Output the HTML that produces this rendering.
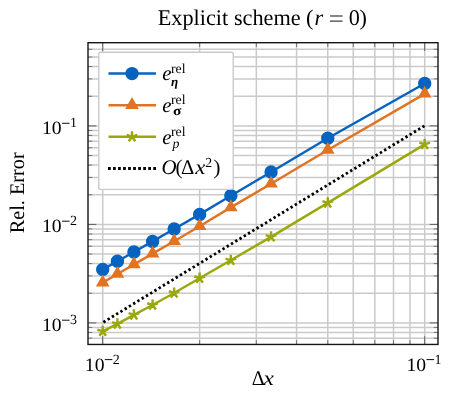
<!DOCTYPE html>
<html><head><meta charset="utf-8"><title>plot</title>
<style>
html,body{margin:0;padding:0;background:#fff;}
svg{display:block;will-change:transform;}
text{font-family:"Liberation Serif",serif;fill:#000;text-rendering:geometricPrecision;}
.i{font-style:italic;}
.b{font-weight:bold;}
</style></head><body>
<svg width="452" height="394" viewBox="0 0 452 394">
<rect x="0" y="0" width="452" height="394" fill="#fff"/>
<defs><clipPath id="c"><rect x="88.0" y="42.7" width="350.0" height="301.75"/></clipPath></defs>

<g stroke="#cacaca" stroke-width="1.5" fill="none">
<line x1="102.70" y1="42.7" x2="102.70" y2="344.45"/>
<line x1="424.70" y1="42.7" x2="424.70" y2="344.45"/>
<line x1="199.63" y1="42.7" x2="199.63" y2="344.45"/>
<line x1="256.33" y1="42.7" x2="256.33" y2="344.45"/>
<line x1="296.56" y1="42.7" x2="296.56" y2="344.45"/>
<line x1="327.77" y1="42.7" x2="327.77" y2="344.45"/>
<line x1="353.26" y1="42.7" x2="353.26" y2="344.45"/>
<line x1="374.82" y1="42.7" x2="374.82" y2="344.45"/>
<line x1="393.49" y1="42.7" x2="393.49" y2="344.45"/>
<line x1="409.97" y1="42.7" x2="409.97" y2="344.45"/>
<line x1="88.0" y1="322.90" x2="438.0" y2="322.90"/>
<line x1="88.0" y1="224.40" x2="438.0" y2="224.40"/>
<line x1="88.0" y1="125.90" x2="438.0" y2="125.90"/>
<line x1="88.0" y1="338.16" x2="438.0" y2="338.16"/>
<line x1="88.0" y1="332.45" x2="438.0" y2="332.45"/>
<line x1="88.0" y1="327.41" x2="438.0" y2="327.41"/>
<line x1="88.0" y1="293.25" x2="438.0" y2="293.25"/>
<line x1="88.0" y1="275.90" x2="438.0" y2="275.90"/>
<line x1="88.0" y1="263.60" x2="438.0" y2="263.60"/>
<line x1="88.0" y1="254.05" x2="438.0" y2="254.05"/>
<line x1="88.0" y1="246.25" x2="438.0" y2="246.25"/>
<line x1="88.0" y1="239.66" x2="438.0" y2="239.66"/>
<line x1="88.0" y1="233.95" x2="438.0" y2="233.95"/>
<line x1="88.0" y1="228.91" x2="438.0" y2="228.91"/>
<line x1="88.0" y1="194.75" x2="438.0" y2="194.75"/>
<line x1="88.0" y1="177.40" x2="438.0" y2="177.40"/>
<line x1="88.0" y1="165.10" x2="438.0" y2="165.10"/>
<line x1="88.0" y1="155.55" x2="438.0" y2="155.55"/>
<line x1="88.0" y1="147.75" x2="438.0" y2="147.75"/>
<line x1="88.0" y1="141.16" x2="438.0" y2="141.16"/>
<line x1="88.0" y1="135.45" x2="438.0" y2="135.45"/>
<line x1="88.0" y1="130.41" x2="438.0" y2="130.41"/>
<line x1="88.0" y1="96.25" x2="438.0" y2="96.25"/>
<line x1="88.0" y1="78.90" x2="438.0" y2="78.90"/>
<line x1="88.0" y1="66.60" x2="438.0" y2="66.60"/>
<line x1="88.0" y1="57.05" x2="438.0" y2="57.05"/>
<line x1="88.0" y1="49.25" x2="438.0" y2="49.25"/>
</g>
<g stroke="#444" stroke-width="0.8" fill="none">
<line x1="102.70" y1="42.7" x2="102.70" y2="51.0"/>
<line x1="102.70" y1="344.45" x2="102.70" y2="336.15"/>
<line x1="424.70" y1="42.7" x2="424.70" y2="51.0"/>
<line x1="424.70" y1="344.45" x2="424.70" y2="336.15"/>
<line x1="88.0" y1="322.90" x2="96.3" y2="322.90"/>
<line x1="438.0" y1="322.90" x2="429.7" y2="322.90"/>
<line x1="88.0" y1="224.40" x2="96.3" y2="224.40"/>
<line x1="438.0" y1="224.40" x2="429.7" y2="224.40"/>
<line x1="88.0" y1="125.90" x2="96.3" y2="125.90"/>
<line x1="438.0" y1="125.90" x2="429.7" y2="125.90"/>
</g>
<g stroke="#555" stroke-width="0.7" fill="none">
<line x1="199.63" y1="42.7" x2="199.63" y2="47.0"/>
<line x1="199.63" y1="344.45" x2="199.63" y2="340.15"/>
<line x1="256.33" y1="42.7" x2="256.33" y2="47.0"/>
<line x1="256.33" y1="344.45" x2="256.33" y2="340.15"/>
<line x1="296.56" y1="42.7" x2="296.56" y2="47.0"/>
<line x1="296.56" y1="344.45" x2="296.56" y2="340.15"/>
<line x1="327.77" y1="42.7" x2="327.77" y2="47.0"/>
<line x1="327.77" y1="344.45" x2="327.77" y2="340.15"/>
<line x1="353.26" y1="42.7" x2="353.26" y2="47.0"/>
<line x1="353.26" y1="344.45" x2="353.26" y2="340.15"/>
<line x1="374.82" y1="42.7" x2="374.82" y2="47.0"/>
<line x1="374.82" y1="344.45" x2="374.82" y2="340.15"/>
<line x1="393.49" y1="42.7" x2="393.49" y2="47.0"/>
<line x1="393.49" y1="344.45" x2="393.49" y2="340.15"/>
<line x1="409.97" y1="42.7" x2="409.97" y2="47.0"/>
<line x1="409.97" y1="344.45" x2="409.97" y2="340.15"/>
<line x1="88.0" y1="338.16" x2="92.3" y2="338.16"/>
<line x1="438.0" y1="338.16" x2="433.7" y2="338.16"/>
<line x1="88.0" y1="332.45" x2="92.3" y2="332.45"/>
<line x1="438.0" y1="332.45" x2="433.7" y2="332.45"/>
<line x1="88.0" y1="327.41" x2="92.3" y2="327.41"/>
<line x1="438.0" y1="327.41" x2="433.7" y2="327.41"/>
<line x1="88.0" y1="293.25" x2="92.3" y2="293.25"/>
<line x1="438.0" y1="293.25" x2="433.7" y2="293.25"/>
<line x1="88.0" y1="275.90" x2="92.3" y2="275.90"/>
<line x1="438.0" y1="275.90" x2="433.7" y2="275.90"/>
<line x1="88.0" y1="263.60" x2="92.3" y2="263.60"/>
<line x1="438.0" y1="263.60" x2="433.7" y2="263.60"/>
<line x1="88.0" y1="254.05" x2="92.3" y2="254.05"/>
<line x1="438.0" y1="254.05" x2="433.7" y2="254.05"/>
<line x1="88.0" y1="246.25" x2="92.3" y2="246.25"/>
<line x1="438.0" y1="246.25" x2="433.7" y2="246.25"/>
<line x1="88.0" y1="239.66" x2="92.3" y2="239.66"/>
<line x1="438.0" y1="239.66" x2="433.7" y2="239.66"/>
<line x1="88.0" y1="233.95" x2="92.3" y2="233.95"/>
<line x1="438.0" y1="233.95" x2="433.7" y2="233.95"/>
<line x1="88.0" y1="228.91" x2="92.3" y2="228.91"/>
<line x1="438.0" y1="228.91" x2="433.7" y2="228.91"/>
<line x1="88.0" y1="194.75" x2="92.3" y2="194.75"/>
<line x1="438.0" y1="194.75" x2="433.7" y2="194.75"/>
<line x1="88.0" y1="177.40" x2="92.3" y2="177.40"/>
<line x1="438.0" y1="177.40" x2="433.7" y2="177.40"/>
<line x1="88.0" y1="165.10" x2="92.3" y2="165.10"/>
<line x1="438.0" y1="165.10" x2="433.7" y2="165.10"/>
<line x1="88.0" y1="155.55" x2="92.3" y2="155.55"/>
<line x1="438.0" y1="155.55" x2="433.7" y2="155.55"/>
<line x1="88.0" y1="147.75" x2="92.3" y2="147.75"/>
<line x1="438.0" y1="147.75" x2="433.7" y2="147.75"/>
<line x1="88.0" y1="141.16" x2="92.3" y2="141.16"/>
<line x1="438.0" y1="141.16" x2="433.7" y2="141.16"/>
<line x1="88.0" y1="135.45" x2="92.3" y2="135.45"/>
<line x1="438.0" y1="135.45" x2="433.7" y2="135.45"/>
<line x1="88.0" y1="130.41" x2="92.3" y2="130.41"/>
<line x1="438.0" y1="130.41" x2="433.7" y2="130.41"/>
<line x1="88.0" y1="96.25" x2="92.3" y2="96.25"/>
<line x1="438.0" y1="96.25" x2="433.7" y2="96.25"/>
<line x1="88.0" y1="78.90" x2="92.3" y2="78.90"/>
<line x1="438.0" y1="78.90" x2="433.7" y2="78.90"/>
<line x1="88.0" y1="66.60" x2="92.3" y2="66.60"/>
<line x1="438.0" y1="66.60" x2="433.7" y2="66.60"/>
<line x1="88.0" y1="57.05" x2="92.3" y2="57.05"/>
<line x1="438.0" y1="57.05" x2="433.7" y2="57.05"/>
<line x1="88.0" y1="49.25" x2="92.3" y2="49.25"/>
<line x1="438.0" y1="49.25" x2="433.7" y2="49.25"/>
</g>
<g clip-path="url(#c)">
<polyline points="102.70,269.40 117.43,261.20 133.91,252.00 152.58,241.40 174.14,229.00 199.63,214.40 230.84,195.80 271.07,172.00 327.77,138.30 424.70,83.50" fill="none" stroke="#0664c0" stroke-width="2.45" stroke-linejoin="round"/>
<g fill="#0664c0" stroke="#0664c0" stroke-width="2.0">
<circle cx="102.70" cy="269.40" r="5.7"/>
<circle cx="117.43" cy="261.20" r="5.7"/>
<circle cx="133.91" cy="252.00" r="5.7"/>
<circle cx="152.58" cy="241.40" r="5.7"/>
<circle cx="174.14" cy="229.00" r="5.7"/>
<circle cx="199.63" cy="214.40" r="5.7"/>
<circle cx="230.84" cy="195.80" r="5.7"/>
<circle cx="271.07" cy="172.00" r="5.7"/>
<circle cx="327.77" cy="138.30" r="5.7"/>
<circle cx="424.70" cy="83.50" r="5.7"/>
</g>
<polyline points="102.70,282.65 117.43,274.05 133.91,264.45 152.58,253.65 174.14,241.25 199.63,226.25 230.84,207.40 271.07,183.75 327.77,149.95 424.70,93.85" fill="none" stroke="#e27320" stroke-width="2.45" stroke-linejoin="round"/>
<g fill="#e27320" stroke="#e27320" stroke-width="2.0" stroke-linejoin="miter" stroke-miterlimit="10">
<polygon points="102.70,276.55 97.59,285.40 107.81,285.40"/>
<polygon points="117.43,267.95 112.32,276.80 122.54,276.80"/>
<polygon points="133.91,258.35 128.80,267.20 139.01,267.20"/>
<polygon points="152.58,247.55 147.47,256.40 157.69,256.40"/>
<polygon points="174.14,235.15 169.03,244.00 179.24,244.00"/>
<polygon points="199.63,220.15 194.52,229.00 204.74,229.00"/>
<polygon points="230.84,201.30 225.73,210.15 235.95,210.15"/>
<polygon points="271.07,177.65 265.96,186.50 276.18,186.50"/>
<polygon points="327.77,143.85 322.66,152.70 332.88,152.70"/>
<polygon points="424.70,87.75 419.59,96.60 429.81,96.60"/>
</g>
<polyline points="102.70,331.30 117.43,323.90 133.91,314.90 152.58,305.00 174.14,293.00 199.63,278.20 230.84,260.30 271.07,236.85 327.77,202.90 424.70,144.40" fill="none" stroke="#9aa80a" stroke-width="2.45" stroke-linejoin="round"/>
<g fill="none" stroke="#9aa80a" stroke-width="2.45">
<path d="M102.70,331.30L102.70,325.70M102.70,331.30L108.03,329.57M102.70,331.30L105.99,335.83M102.70,331.30L99.41,335.83M102.70,331.30L97.37,329.57"/>
<path d="M117.43,323.90L117.43,318.30M117.43,323.90L122.76,322.17M117.43,323.90L120.73,328.43M117.43,323.90L114.14,328.43M117.43,323.90L112.11,322.17"/>
<path d="M133.91,314.90L133.91,309.30M133.91,314.90L139.23,313.17M133.91,314.90L137.20,319.43M133.91,314.90L130.61,319.43M133.91,314.90L128.58,313.17"/>
<path d="M152.58,305.00L152.58,299.40M152.58,305.00L157.90,303.27M152.58,305.00L155.87,309.53M152.58,305.00L149.29,309.53M152.58,305.00L147.25,303.27"/>
<path d="M174.14,293.00L174.14,287.40M174.14,293.00L179.46,291.27M174.14,293.00L177.43,297.53M174.14,293.00L170.84,297.53M174.14,293.00L168.81,291.27"/>
<path d="M199.63,278.20L199.63,272.60M199.63,278.20L204.96,276.47M199.63,278.20L202.92,282.73M199.63,278.20L196.34,282.73M199.63,278.20L194.31,276.47"/>
<path d="M230.84,260.30L230.84,254.70M230.84,260.30L236.16,258.57M230.84,260.30L234.13,264.83M230.84,260.30L227.55,264.83M230.84,260.30L225.51,258.57"/>
<path d="M271.07,236.85L271.07,231.25M271.07,236.85L276.39,235.12M271.07,236.85L274.36,241.38M271.07,236.85L267.78,241.38M271.07,236.85L265.74,235.12"/>
<path d="M327.77,202.90L327.77,197.30M327.77,202.90L333.09,201.17M327.77,202.90L331.06,207.43M327.77,202.90L324.48,207.43M327.77,202.90L322.44,201.17"/>
<path d="M424.70,144.40L424.70,138.80M424.70,144.40L430.03,142.67M424.70,144.40L427.99,148.93M424.70,144.40L421.41,148.93M424.70,144.40L419.37,142.67"/>
</g>
<line x1="102.70" y1="322.65" x2="424.70" y2="125.7" stroke="#000" stroke-width="2.8" stroke-dasharray="2.4 2.587" stroke-dashoffset="-0.8"/>
</g>
<rect x="88.0" y="42.7" width="350.0" height="301.75" fill="none" stroke="#151515" stroke-width="1.4"/>
<rect x="98.8" y="52.2" width="134.45" height="137.14999999999998" rx="1.8" ry="1.8" fill="#fff" stroke="#cacaca" stroke-width="1.4"/>
<line x1="108.5" y1="73.6" x2="156.0" y2="73.6" stroke="#0664c0" stroke-width="2.5"/>
<circle cx="132.0" cy="73.6" r="5.7" fill="#0664c0" stroke="#0664c0" stroke-width="2.0"/>
<line x1="108.5" y1="105.15" x2="156.0" y2="105.15" stroke="#e27320" stroke-width="2.5"/>
<g fill="#e27320" stroke="#e27320" stroke-width="2.0" stroke-miterlimit="10"><polygon points="132.00,99.05 126.89,107.90 137.11,107.90"/></g>
<line x1="108.5" y1="136.75" x2="156.0" y2="136.75" stroke="#9aa80a" stroke-width="2.5"/>
<g fill="none" stroke="#9aa80a" stroke-width="2.45"><path d="M132.00,136.75L132.00,131.15M132.00,136.75L137.33,135.02M132.00,136.75L135.29,141.28M132.00,136.75L128.71,141.28M132.00,136.75L126.67,135.02"/></g>
<line x1="108.0" y1="168.39999999999998" x2="156.1" y2="168.39999999999998" stroke="#000" stroke-width="3.0" stroke-dasharray="2.75 2.28"/>
<text transform="translate(162.2,80.0) scale(1.0,1)" font-size="20.8" class="i" text-anchor="start">e</text><text transform="translate(171.0,72.5) scale(1.0,1)" font-size="13.8" text-anchor="start">rel</text><text transform="translate(170.9,85.5) scale(1.0,1)" font-size="13.1" class="b i" text-anchor="start">η</text>
<text transform="translate(162.2,111.6) scale(1.0,1)" font-size="20.8" class="i" text-anchor="start">e</text><text transform="translate(171.0,104.1) scale(1.0,1)" font-size="13.8" text-anchor="start">rel</text><text transform="translate(172.9,115.3) scale(1.15,1)" font-size="13.4" class="b" text-anchor="start">σ</text>
<text transform="translate(162.2,143.5) scale(1.0,1)" font-size="20.8" class="i" text-anchor="start">e</text><text transform="translate(171.0,136.0) scale(1.0,1)" font-size="13.8" text-anchor="start">rel</text><text transform="translate(172.6,147.7) scale(1.0,1)" font-size="13.8" class="i" text-anchor="start">p</text>
<text transform="translate(161.4,174.3) scale(1.0,1)" font-size="20.8" class="i" text-anchor="start">O</text>
<text transform="translate(175.6,174.3) scale(1.0,1)" font-size="20.8" text-anchor="start">(</text>
<text transform="translate(181.0,174.3) scale(1.0,1)" font-size="20.8" text-anchor="start">Δ</text>
<text transform="translate(195.2,174.3) scale(1.1,1)" font-size="20.8" class="i" text-anchor="start">x</text>
<text transform="translate(205.2,167.0) scale(1.0,1)" font-size="13.8" text-anchor="start">2</text>
<text transform="translate(213.6,174.3) scale(1.0,1)" font-size="20.8" text-anchor="start">)</text>
<text transform="translate(157.7,24.6) scale(0.994,1)" font-size="22.4" text-anchor="start">Explicit</text>
<text transform="translate(233.9,24.6) scale(0.994,1)" font-size="22.4" text-anchor="start">scheme</text>
<text transform="translate(305.9,24.6) scale(0.994,1)" font-size="22.4" text-anchor="start">(</text>
<text transform="translate(314.4,24.6) scale(0.994,1)" font-size="22.4" class="i" text-anchor="start">r</text>
<path d="M330,16.0H342.6M330,21.1H342.6" stroke="#000" stroke-width="0.95" fill="none"/>
<text transform="translate(348.7,24.6) scale(0.994,1)" font-size="22.4" text-anchor="start">0</text>
<text transform="translate(359.5,24.6) scale(0.994,1)" font-size="22.4" text-anchor="start">)</text>
<text transform="translate(251.7,385.0) scale(0.97,1)" font-size="20.8" text-anchor="start">Δ</text>
<text transform="translate(263.5,385.0) scale(1.12,1)" font-size="20.8" class="i" text-anchor="start">x</text>
<text transform="translate(23.7,192.8) rotate(-90) scale(0.972,1)" font-size="20.8" text-anchor="middle">Rel. Error</text>
<text transform="translate(42.05,134.4) scale(1.04,1)" font-size="18.9" text-anchor="start">10</text><line x1="62.00" y1="123.30" x2="69.60" y2="123.30" stroke="#000" stroke-width="0.95"/><text transform="translate(69.9,127.30000000000001) scale(1.0,1)" font-size="14.0" text-anchor="start">1</text>
<text transform="translate(42.05,232.3) scale(1.04,1)" font-size="18.9" text-anchor="start">10</text><line x1="62.00" y1="221.20" x2="69.60" y2="221.20" stroke="#000" stroke-width="0.95"/><text transform="translate(69.9,225.20000000000002) scale(1.0,1)" font-size="14.0" text-anchor="start">2</text>
<text transform="translate(42.05,331.29999999999995) scale(1.04,1)" font-size="18.9" text-anchor="start">10</text><line x1="62.00" y1="320.20" x2="69.60" y2="320.20" stroke="#000" stroke-width="0.95"/><text transform="translate(69.9,324.19999999999993) scale(1.0,1)" font-size="14.0" text-anchor="start">3</text>
<text transform="translate(84.85,370.7) scale(1.04,1)" font-size="18.9" text-anchor="start">10</text><line x1="104.80" y1="359.60" x2="112.40" y2="359.60" stroke="#000" stroke-width="0.95"/><text transform="translate(112.69999999999999,363.59999999999997) scale(1.0,1)" font-size="14.0" text-anchor="start">2</text>
<text transform="translate(406.55,370.7) scale(1.04,1)" font-size="18.9" text-anchor="start">10</text><line x1="426.50" y1="359.60" x2="434.10" y2="359.60" stroke="#000" stroke-width="0.95"/><text transform="translate(434.40000000000003,363.59999999999997) scale(1.0,1)" font-size="14.0" text-anchor="start">1</text>
</svg></body></html>
